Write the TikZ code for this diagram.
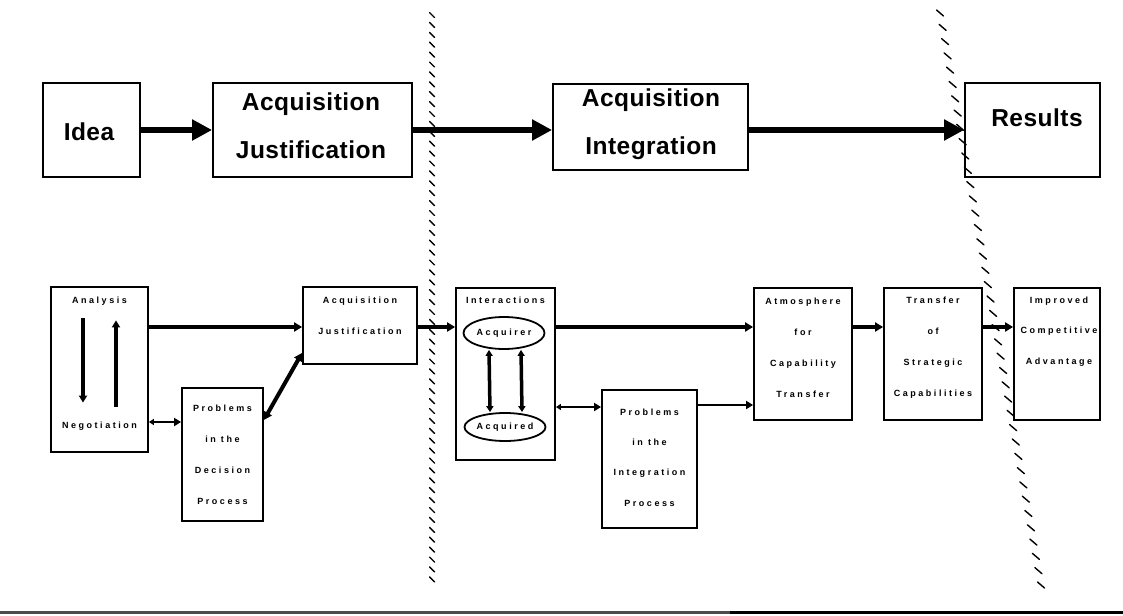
\documentclass[tikz,border=0pt]{standalone}
\usepackage{fontspec}
\setmainfont{Liberation Sans}
\newfontfamily\bigf{Liberation Sans}[LetterSpace=2]
\newfontfamily\smf{Liberation Sans}[LetterSpace=28]
\usetikzlibrary{arrows.meta,shapes.geometric}
\begin{document}
\begin{tikzpicture}[x=1pt,y=-1pt,
  box/.style={draw, line width=1.8pt, rectangle, inner sep=0pt},
  oval/.style={draw, line width=1.8pt, ellipse, inner sep=0pt, minimum width=81pt},
  bigtxt/.style={font=\bigf\bfseries\fontsize{24.5}{48}\selectfont, align=center, inner sep=0pt},
  smtxt/.style={font=\smf\bfseries\fontsize{9}{31}\selectfont, align=center, inner sep=0pt},
  bigarrow/.style={line width=6pt, -{Triangle[length=20pt,width=20pt]}},
  medarrow/.style={line width=4pt, -{Triangle[length=8pt,width=9pt]}},
  bimedarrow/.style={line width=4pt, {Triangle[length=8pt,width=9pt]}-{Triangle[length=8pt,width=9pt]}},
  thinarrow/.style={line width=2.6pt, {Triangle[length=5pt,width=6pt]}-{Triangle[length=7pt,width=8pt]}},
  inarrow/.style={line width=3.5pt, -{Triangle[length=7pt,width=8pt]}},
  biinarrow/.style={line width=3.5pt, {Triangle[length=6pt,width=7pt]}-{Triangle[length=6pt,width=7pt]}},
  hatch/.style={line width=1.4pt, line cap=round}
]
\useasboundingbox[fill=white] (0,0) rectangle (1123,615);

% ---- hatched boundaries
\foreach \i in {0,...,57} {
  \pgfmathsetmacro\yy{15+\i*9.9}
  \draw[hatch] (429.5,\yy-2.5) -- ++(5,5);
}
\foreach \i in {0,...,40} {
  \pgfmathsetmacro\yy{13+\i*14.3}
  \pgfmathsetmacro\xx{940+101*\i/40}
  \draw[hatch] (\xx-3.5,\yy-3) -- ++(7,6);
}

% ---- top row
\node[box, minimum width=97pt, minimum height=94pt] (idea) at (91.5,130) {};
\node[bigtxt] (ideaT) at (89,132) {Idea};
\node[box, minimum width=199pt, minimum height=94pt] (aj) at (312.5,130) {};
\node[bigtxt] (ajT) at (311,126) {Acquisition\\Justification};
\node[box, minimum width=195pt, minimum height=86pt] (ai) at (650.5,127) {};
\node[bigtxt] (aiT) at (651,124.5) {Acquisition\\Integration};
\node[box, minimum width=135pt, minimum height=94pt] (res) at (1032.5,130) {};
\node[bigtxt] (resT) at (1037,118) {Results};

\draw[bigarrow] (idea.east) -- (idea.east -| aj.west);
\draw[bigarrow] (aj.east) -- (aj.east -| ai.west);
\draw[bigarrow] (res.west -| ai.east) -- (res.west);

% ---- bottom row boxes
\node[box, minimum width=97pt, minimum height=165pt] (ana) at (99.5,369.5) {};
\node[smtxt] (anaT) at (99.5,301) {Analysis};
\node[smtxt] (negT) at (99.5,426) {Negotiation};

\node[box, minimum width=114pt, minimum height=77pt] (ajs) at (360,325.5) {};
\node[smtxt] (ajsT) at (360,316) {Acquisition\\Justification};

\node[box, minimum width=81pt, minimum height=133pt] (pd) at (222.5,454.5) {};
\node[smtxt] (pdT) at (222.5,454.5) {Problems\\in the\\Decision\\Process};

\node[box, minimum width=99pt, minimum height=172pt] (inter) at (505.5,374) {};
\node[smtxt] (interT) at (505.5,300) {Interactions};
\node[oval, minimum height=32pt] (acqr) at (504,333) {};
\node[smtxt] (acqrT) at (504,333) {Acquirer};
\node[oval, minimum height=28pt] (acqd) at (505,427) {};
\node[smtxt] (acqdT) at (505,427) {Acquired};

\node[box, minimum width=95pt, minimum height=138pt] (pi) at (649.5,459) {};
\node[smtxt, font=\smf\bfseries\fontsize{9}{30.3}\selectfont] (piT) at (649.5,457.5) {Problems\\in the\\Integration\\Process};

\node[box, minimum width=98pt, minimum height=132pt] (atm) at (803,354) {};
\node[smtxt] (atmT) at (803,348) {Atmosphere\\for\\Capability\\Transfer};

\node[box, minimum width=98pt, minimum height=132pt] (tr) at (933,354) {};
\node[smtxt] (trT) at (933,348) {Transfer\\of\\Strategic\\Capabilities};

\node[box, minimum width=86pt, minimum height=132pt] (imp) at (1057,354) {};
\node[smtxt, font=\smf\bfseries\fontsize{9}{30.5}\selectfont] (impT) at (1059,331.5) {Improved\\Competitive\\Advantage};

% ---- helper rows
\coordinate (r1) at (0,327);
\coordinate (r2) at (0,407);
\coordinate (r3) at (0,405);
\coordinate (r4) at (0,422);

% ---- bottom connectors
\draw[inarrow, shorten <=13pt, shorten >=19pt] ([xshift=-16.5pt]anaT.south) -- ([xshift=-16.5pt]negT.north);
\draw[inarrow, shorten <=15pt, shorten >=15pt] ([xshift=16.5pt]negT.north) -- ([xshift=16.5pt]anaT.south);
\draw[medarrow] (ana.east |- r1) -- (ajs.west |- r1);
\draw[thinarrow] (ana.east |- r4) -- (pd.west |- r4);
\draw[bimedarrow] ([yshift=34.5pt]pd.east) -- ([yshift=12pt]ajs.south west);
\draw[medarrow] (ajs.east |- r1) -- (inter.west |- r1);
\draw[biinarrow] ([xshift=-15pt]acqr.south) -- ([xshift=-15pt]acqd.north);
\draw[biinarrow] ([xshift=17pt]acqd.north) -- ([xshift=17pt]acqr.south);
\draw[medarrow] (inter.east |- r1) -- (atm.west |- r1);
\draw[thinarrow] (inter.east |- r2) -- (pi.west |- r2);
\draw[line width=2.6pt, -{Triangle[length=7pt,width=8pt]}] (pi.east |- r3) -- (atm.west |- r3);
\draw[medarrow] (atm.east |- r1) -- (tr.west |- r1);
\draw[medarrow] (tr.east |- r1) -- (imp.west |- r1);

% ---- page rule
\draw[line width=3pt, black!70] (0,612.5) -- (730,612.5);
\draw[line width=3pt] (730,612.5) -- (1123,612.5);
\end{tikzpicture}
\end{document}
